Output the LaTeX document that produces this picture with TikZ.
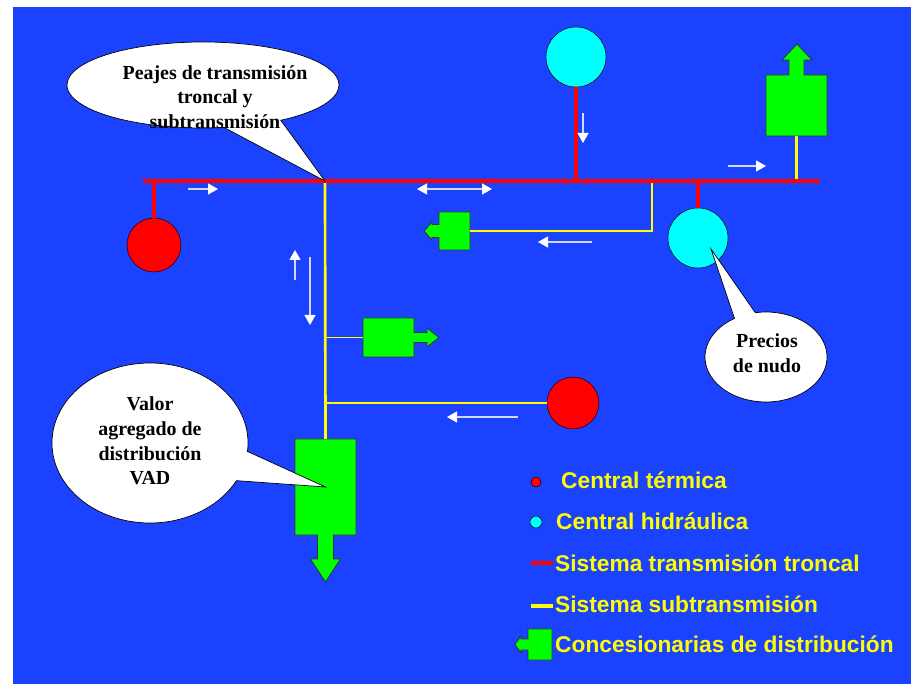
\documentclass[tikz,border=0pt]{standalone}
\usepackage{fontspec}
\setmainfont{Liberation Serif}
\newfontfamily\legendfont{Liberation Sans}
\usepackage{tikz}
\usetikzlibrary{positioning, arrows.meta, shapes.callouts, calc}
\definecolor{slideblue}{RGB}{26, 66, 255}
\definecolor{troncalred}{RGB}{255, 0, 0}
\definecolor{subyellow}{RGB}{255, 255, 0}
\definecolor{distgreen}{RGB}{0, 255, 0}
\definecolor{hydrocyan}{RGB}{0, 255, 255}

\begin{document}
\begin{tikzpicture}[x=0.03cm, y=-0.03cm,
    thermal/.style={circle, draw=black, fill=troncalred, inner sep=0pt, minimum size=1.62cm},
    hydro/.style={circle, draw=black, fill=hydrocyan, inner sep=0pt, minimum size=1.8cm},
    troncal/.style={troncalred, line width=0.14cm},
    subtrans/.style={subyellow, line width=0.08cm},
    distbox/.style={rectangle, inner sep=0pt, outer sep=0pt},
    distro/.style={fill=distgreen, draw=black!80, line width=0.7pt},
    flow/.style={white!80!slideblue, line width=1.1pt, -{Triangle[length=0.3cm, width=0.33cm, color=white]}},
    flowboth/.style={flow, {Triangle[length=0.3cm, width=0.33cm, color=white]}-{Triangle[length=0.3cm, width=0.33cm, color=white]}},
    bubble/.style={ellipse callout, draw=black, fill=white, line width=0.6pt, inner sep=0pt},
    bubbletext/.style={align=center, font=\bfseries\fontsize{17}{21}\selectfont},
    legendtext/.style={anchor=base west, inner xsep=0pt, text=subyellow, font=\legendfont\bfseries\fontsize{19.4}{23}\selectfont}
]
    \useasboundingbox (0,0) rectangle (911,684);
    \fill[white] (0,0) rectangle (911,684);
    \fill[slideblue] (13,7) rectangle (911,684);

    % Trunk bus
    \coordinate (busW) at (143,181);
    \coordinate (busE) at (820,181);
    \coordinate (jS) at (325,181);
    \coordinate (jL) at (652,181);

    % Plants
    \node[thermal] (t1) at (154,245) {};
    \node[hydro] (h1) at (576,57) {};
    \node[hydro] (h2) at (698,238) {};
    \node[thermal, minimum size=1.56cm] (t2) at (573,403) {};

    % Distribution companies
    \node[distbox, minimum width=1.83cm, minimum height=1.83cm] (dT) at (796.5,105.5) {};
    \node[distbox, minimum width=0.93cm, minimum height=1.14cm] (dL) at (454.5,231) {};
    \node[distbox, minimum width=1.53cm, minimum height=1.17cm] (dR) at (388.5,337.5) {};
    \node[distbox, minimum width=1.83cm, minimum height=2.88cm] (dB) at (325.5,487) {};

    \filldraw[distro] (dT.north west) -- ++(23,0) -- ++(0,-15) -- ++(-7,0) -- ++(15,-16) -- ++(15,16) -- ++(-8,0) -- ++(0,15) -- (dT.north east) -- (dT.south east) -- (dT.south west) -- cycle;
    \filldraw[distro] (dL.north west) -- (dL.north east) -- (dL.south east) -- (dL.south west) -- ++(0,-12.5) -- ++(-7,0) -- ++(0,2.5) -- ++(-8,-9) -- ++(8,-9) -- ++(0,2.5) -- ++(7,0) -- cycle;
    \filldraw[distro] (dR.north west) -- (dR.north east) -- ++(0,14.5) -- ++(13,0) -- ++(0,-4.5) -- ++(12,9.5) -- ++(-12,9.5) -- ++(0,-4.5) -- ++(-13,0) -- (dR.south east) -- (dR.south west) -- cycle;
    \filldraw[distro] (dB.north west) -- (dB.north east) -- (dB.south east) -- ++(-22.5,0) -- ++(0,24) -- ++(7,0) -- ++(-15,23) -- ++(-15,-23) -- ++(7,0) -- ++(0,-24) -- (dB.south west) -- cycle;

    % Subtransmission
    \draw[subtrans] (jS) -- (dB.north);
    \draw[subtrans] (jL) |- (dL.east);
    \draw[subtrans] (t2.west) -- (t2.west -| jS);
    \draw[subyellow, line width=0.03cm] (dR.west) -- (dR.west -| jS);
    \draw[subtrans] (dT.south) -- (dT.south |- busE);

    % Trunk transmission
    \draw[troncal] (busW) -- (busE);
    \draw[troncal] (t1.north) -- (t1.north |- busW);
    \draw[troncal] (h1.south) -- (h1.south |- busW);
    \draw[troncal] (h2.north) -- (h2.north |- busW);

    % Flows
    \draw[flow] (188,189) -- (218,189);
    \draw[flow] (583,113) -- (583,143);
    \draw[flow] (728,166) -- (766,166);
    \draw[flowboth] (417,189) -- (492,189);
    \draw[flow] (592,242) -- (538,242);
    \draw[flow] (295,280) -- (295,250);
    \draw[flow] (310,257) -- (310,325);
    \draw[flow] (518,417) -- (447,417);

    % Callouts
    \node[bubble, minimum width=8.16cm, minimum height=2.58cm, callout pointer arc=26, callout absolute pointer={(jS)}] (peajes) at (203,85) {};
    \node[bubbletext] (peajesT) at (215,97) {Peajes de transmisión\\troncal y\\subtransmisión};
    \node[bubble, minimum width=5.88cm, minimum height=4.8cm, callout pointer arc=22, callout absolute pointer={(dB)}] (vad) at (150,443) {};
    \node[bubbletext] (vadT) at (150,441) {Valor\\agregado de\\distribución\\VAD};
    \node[bubble, minimum width=3.66cm, minimum height=2.7cm, callout pointer arc=21, callout absolute pointer={($(h2)+(13,11)$)}] (nudo) at (766,357) {};
    \node[bubbletext] (nudoT) at (767,353) {Precios\\de nudo};

    % Legend
    \node[circle, draw=black, fill=troncalred, inner sep=0pt, minimum size=0.3cm] (kT) at (536,482) {};
    \node[circle, draw=black, fill=hydrocyan, inner sep=0pt, minimum size=0.36cm] (kH) at (536,522) {};
    \draw[troncalred, line width=0.12cm] (531,563) -- (553,563);
    \draw[subyellow, line width=0.12cm] (531,606) -- (553,606);
    \node[distbox, minimum width=0.72cm, minimum height=0.93cm] (kD) at (540,644.5) {};
    \filldraw[distro] (kD.north west) -- (kD.north east) -- (kD.south east) -- (kD.south west) -- ++(0,-10) -- ++(-7,0) -- ++(0,3) -- ++(-6,-8.5) -- ++(6,-8.5) -- ++(0,3) -- ++(7,0) -- cycle;

    \node[legendtext] (kTT) at (561,489) {Central térmica};
    \node[legendtext] (kHT) at (556,530) {Central hidráulica};
    \node[legendtext] (kRT) at (555,572) {Sistema transmisión troncal};
    \node[legendtext] (kYT) at (555,613) {Sistema subtransmisión};
    \node[legendtext] (kDT) at (555,653) {Concesionarias de distribución};
\end{tikzpicture}
\end{document}
